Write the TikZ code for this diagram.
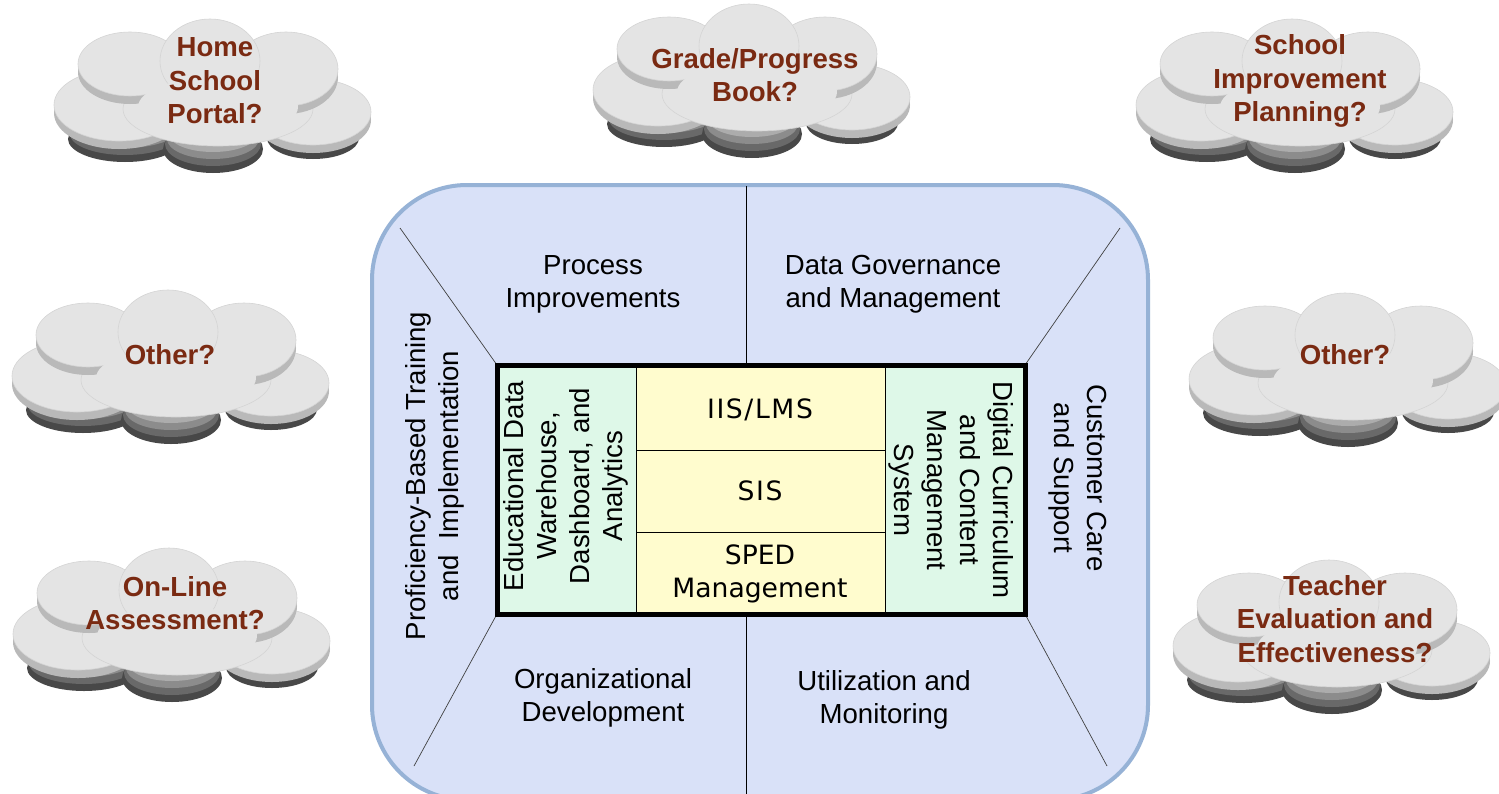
\documentclass[tikz,border=0pt]{standalone}
\usepackage{fontspec}
\setmainfont{Liberation Sans}
\newfontfamily\verd{DejaVu Sans}
\newfontfamily\verdsp{DejaVu Sans}[LetterSpace=6]
\definecolor{outerfill}{RGB}{217,225,248}
\definecolor{outerline}{RGB}{150,178,214}
\definecolor{mint}{RGB}{222,248,232}
\definecolor{cream}{RGB}{255,252,206}
\definecolor{clight}{RGB}{228,228,228}
\definecolor{cline}{RGB}{212,212,212}
\definecolor{cext}{RGB}{185,185,185}
\definecolor{cdarkA}{RGB}{72,72,72}
\definecolor{cdarkB}{RGB}{105,105,105}
\definecolor{cdarkC}{RGB}{140,140,140}
\definecolor{cdarkD}{RGB}{172,172,172}
\definecolor{cloudred}{RGB}{122,42,18}
\tikzset{
  lbl/.style={font=\fontsize{13.8}{16.5}\selectfont, align=center, text=black, inner sep=0pt},
  sysl/.style={font=\verd\fontsize{13.3}{16.8}\selectfont, align=center, inner sep=0pt},
  syslsp/.style={font=\verdsp\fontsize{13.3}{16.8}\selectfont, align=center, inner sep=0pt},
  cloudtext/.style={font=\bfseries\fontsize{13.8}{16.7}\selectfont, text=cloudred, align=center, inner sep=0pt},
  divider/.style={draw=black, line width=0.5pt},
  diag/.style={draw=black!75, line width=0.35pt},
}
\newcommand\darklobe[4]{%
  \fill[cdarkA] (#1,#2) ellipse [x radius=#3, y radius=#4];
  \fill[cdarkB] (#1,#2-5) ellipse [x radius=#3-2, y radius=#4-2];
  \fill[cdarkC] (#1,#2-10) ellipse [x radius=#3-4, y radius=#4-4];
  \fill[cdarkD] (#1,#2-15) ellipse [x radius=#3-6, y radius=#4-6];}
\newcommand\lightlobe[4]{%
  \fill[cext] (#1,#2+8) ellipse [x radius=#3, y radius=#4];
  \filldraw[fill=clight, draw=cline, line width=0.3pt] (#1,#2) ellipse [x radius=#3, y radius=#4];}
\newcommand\flatlobe[4]{%
  \filldraw[fill=clight, draw=cline, line width=0.3pt] (#1,#2) ellipse [x radius=#3, y radius=#4];}
% #1 name, #2,#3 cloud centre, #4,#5 text centre, #6 text
\newcommand\cloudat[6]{%
  \begin{scope}[shift={(#2,#3)}]
    \darklobe{-88}{50}{57}{23}
    \darklobe{100}{49}{46}{21}
    \darklobe{0}{60}{50}{24}
    \lightlobe{-94}{16}{65}{36}
    \lightlobe{100}{23}{58}{33}
    \flatlobe{5}{20}{95}{37}
    \lightlobe{-83}{-25}{52}{32}
    \lightlobe{73}{-20}{52}{37}
    \flatlobe{-3}{-28}{50}{42}
    \fill[clight] (5,18) ellipse [x radius=80, y radius=30];
  \end{scope}
  \node[cloudtext] (#1) at (#4,#5) {#6};}
\begin{document}
\begin{tikzpicture}[x=0.5pt,y=-0.5pt]
\useasboundingbox (0,0) rectangle (1499,793);
\clip (0,0) rectangle (1499,793);
\fill[white] (0,0) rectangle (1499,793);

% clouds
\cloudat{home}{213}{89}{215}{81}{Home\\School\\Portal?}
\cloudat{grade}{752}{74}{755}{75}{Grade/Progress\\Book?}
\cloudat{sip}{1295}{89}{1300}{81}{School\\Improvement\\Planning?}
\cloudat{otherl}{171}{360}{170}{355}{Other?}
\cloudat{otherr}{1348}{363}{1345}{355}{Other?}
\cloudat{online}{172}{618}{175}{603}{On-Line\\Assessment?}
\cloudat{teacher}{1332}{630}{1335}{619}{Teacher\\Evaluation and\\Effectiveness?}

% outer frame
\draw[fill=outerfill, draw=outerline, line width=2pt, rounded corners=47.5pt] (372,185) rectangle (1148,800);

% coordinates
\coordinate (tl) at (497,365);
\coordinate (tr) at (1025,365);
\coordinate (bl) at (497,614);
\coordinate (br) at (1025,614);
\coordinate (otl) at (400,228);
\coordinate (otr) at (1120,228);
\coordinate (obl) at (414,766);
\coordinate (obr) at (1107,766);
\coordinate (tm) at (746,365);
\coordinate (otm) at (746,186);
\coordinate (bm) at (746,614);
\coordinate (obm) at (746,800);

\draw[diag] (tl) -- (otl);
\draw[diag] (tr) -- (otr);
\draw[diag] (bl) -- (obl);
\draw[diag] (br) -- (obr);
\draw[divider] (tm) -- (otm);
\draw[divider] (bm) -- (obm);

% core box
\fill[mint] (497,365) rectangle (636,614);
\fill[cream] (636,365) rectangle (885,614);
\fill[mint] (885,365) rectangle (1025,614);
\coordinate (c1t) at (636,365); \coordinate (c1b) at (636,614);
\coordinate (c2t) at (885,365); \coordinate (c2b) at (885,614);
\coordinate (r1l) at (636,450); \coordinate (r1r) at (885,450);
\coordinate (r2l) at (636,532); \coordinate (r2r) at (885,532);
\draw[divider] (c1t) -- (c1b);
\draw[divider] (c2t) -- (c2b);
\draw[divider] (r1l) -- (r1r);
\draw[divider] (r2l) -- (r2r);
\draw[line width=2.5pt] (tl) -- (tr) -- (br) -- (bl) -- cycle;

% labels
\node[lbl] (proc) at (593,284) {Process\\Improvements};
\node[lbl] (gov) at (893,284) {Data Governance\\and Management};
\node[lbl] (org) at (603,698) {Organizational\\Development};
\node[lbl] (util) at (884,700) {Utilization and\\Monitoring};
\node[lbl, rotate=90] (prof) at (435,476) {Proficiency-Based Training\\and~ Implementation};
\node[lbl, rotate=-90] (cust) at (1078,478) {Customer Care\\and Support};
\node[lbl, rotate=90] (edw) at (566,486) {Educational Data\\Warehouse,\\Dashboard, and\\Analytics};
\node[lbl, rotate=-90] (dcc) at (951,490) {Digital Curriculum\\and Content\\Management\\System};
\node[syslsp] (iis) at (760,410) {IIS/LMS};
\node[syslsp] (sis) at (760,491) {SIS};
\node[sysl] (sped) at (760,574) {SPED\\Management};
\end{tikzpicture}
\end{document}
